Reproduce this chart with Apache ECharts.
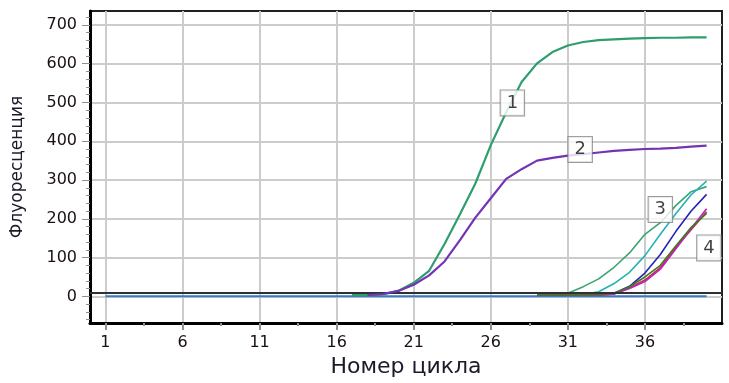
<!DOCTYPE html>
<html>
<head>
<meta charset="utf-8">
<script src="https://cdn.jsdelivr.net/npm/echarts@6/dist/echarts.min.js"></script>
<style>html,body{margin:0;padding:0;background:#fff;}#c{width:729px;height:383px;}</style>
</head>
<body>
<div id="c"></div>
<script>
// ---- data ----
const xTickLabels = [1, 6, 11, 16, 21, 26, 31, 36];
const xMinorTicks = [3.5, 8.5, 13.5, 18.5, 23.5, 28.5, 33.5, 38.5];
const yTickLabels = [0, 100, 200, 300, 400, 500, 600, 700];
const yMinorTicks = [-60, -40, -20, 20, 40, 60, 80, 120, 140, 160, 180, 220, 240, 260, 280, 320, 340, 360, 380, 420, 440, 460, 480, 520, 540, 560, 580, 620, 640, 660, 680, 720];
const threshold = 8;

const ntcStart = 1;
const ntc = [0,0,0,0,0,0,0,0,0,0,0,0,0,0,0,0,0,0,0,0,0,0,0,0,0,0,0,0,0,0,0,0,0,0,0,0,0,0,0,0];

const curve1Start = 17;
const curve1 = [3,3,5,14,35,66,135,212,291,390,475,553,601,630,647,656,661,663,665,666,667,667,668,668];
const curve2Start = 18;
const curve2 = [3,6,14,30,54,90,145,203,253,303,328,350,357,363,367,371,375,378,380,381,383,386,389];

const groupStart = 29;
const green3 = [3,3,8,25,45,75,112,160,190,234,270,283];
const cyan3 = [3,3,3,5,12,33,62,105,160,213,262,297];
const blue4 = [3,3,3,3,5,8,26,60,108,167,220,263];
const olive4 = [3,3,3,3,4,8,25,50,80,130,178,214];
const red4 = [3,3,3,3,3,6,22,42,74,126,172,218];
const magenta4 = [3,3,3,3,3,6,20,38,70,122,175,226];

const noteNames = ['1', '2', '3', '4'];
const noteCycles = [27.4, 31.8, 37.0, 40.15];
const noteValues = [499, 379, 224, 125];

// ---- build ----
function pairs(start, vals) { return vals.map((v, i) => [start + i, v]); }
function line(name, start, vals, color, width, z) {
  return { name, type: 'line', data: pairs(start, vals), symbol: 'none', z: z || 2,
    lineStyle: { color, width }, itemStyle: { color }, animation: false };
}

const chart = echarts.init(document.getElementById('c'), null, { renderer: 'canvas' });
const FONT = 'DejaVu Sans';
chart.setOption({
  animation: false,
  backgroundColor: '#ffffff',
  grid: { left: 90, right: 7, top: 11, bottom: 56, show: true, borderColor: '#202020', borderWidth: 2 },
  xAxis: [{
    type: 'value', min: 0, max: 41,
    name: 'Номер цикла', nameLocation: 'middle', nameGap: 30,
    nameTextStyle: { fontFamily: FONT, fontSize: 22, color: '#1a1a2a' },
    axisLine: { show: true, onZero: false, lineStyle: { color: '#000', width: 3 } },
    axisTick: { show: true, customValues: xTickLabels, length: 7, inside: false, lineStyle: { color: '#909090', width: 2 } },
    axisLabel: { customValues: xTickLabels, margin: 12, fontFamily: FONT, fontSize: 16, color: '#1a1010' },
    splitLine: { show: true, lineStyle: { color: '#cccccc', width: 2 } }
  }, {
    type: 'value', min: 0, max: 41, position: 'bottom', gridIndex: 0,
    axisLine: { show: false, onZero: false }, axisLabel: { show: false }, splitLine: { show: false },
    axisTick: { show: true, customValues: xMinorTicks, length: 3, lineStyle: { color: '#909090', width: 2 } }
  }],
  yAxis: [{
    type: 'value', min: -69, max: 736,
    name: 'Флуоресценция', nameLocation: 'middle', nameGap: 64, nameRotate: 90,
    nameTextStyle: { fontFamily: FONT, fontSize: 17, color: '#1a1a2a' },
    axisLine: { show: true, onZero: false, lineStyle: { color: '#000', width: 3 } },
    axisTick: { show: true, customValues: yTickLabels, length: 8, lineStyle: { color: '#909090', width: 1 } },
    axisLabel: { customValues: yTickLabels, margin: 13, fontFamily: FONT, fontSize: 16, color: '#1a1010' },
    splitLine: { show: true, lineStyle: { color: '#cccccc', width: 2 } }
  }, {
    type: 'value', min: -69, max: 736, position: 'left', gridIndex: 0,
    axisLine: { show: false, onZero: false }, axisLabel: { show: false }, splitLine: { show: false },
    axisTick: { show: true, customValues: yMinorTicks, length: 4, lineStyle: { color: '#909090', width: 1 } }
  }],
  series: [
    line('ntc', ntcStart, ntc, '#3a78c8', 2, 3),
    line('1', curve1Start, curve1, '#2e9e6e', 2.2, 4),
    line('2', curve2Start, curve2, '#7333b3', 2.2, 5),
    line('3a', groupStart, green3, '#3aa472', 1.6, 4),
    line('3b', groupStart, cyan3, '#22b2b6', 1.6, 4),
    line('4a', groupStart, blue4, '#2424b0', 1.6, 4),
    line('4b', groupStart, red4, '#c03048', 1.6, 4),
    line('4c', groupStart, magenta4, '#c020c0', 1.6, 4),
    line('4d', groupStart, olive4, '#3d7a1e', 1.6, 4),
    {
      type: 'line', data: [], symbol: 'none', z: 6,
      markLine: { silent: true, symbol: 'none', label: { show: false }, animation: false,
        lineStyle: { color: '#303030', width: 2, type: 'solid' },
        data: [{ yAxis: threshold }] }
    },
    {
      type: 'scatter', symbolSize: 0, z: 10, animation: false,
      data: noteNames.map((n, i) => ({ name: n, value: [noteCycles[i], noteValues[i]] })),
      label: { show: true, position: 'inside', formatter: p => p.name,
        fontFamily: FONT, fontSize: 18, color: '#111',
        backgroundColor: '#ffffff', borderColor: '#808080', borderWidth: 1, padding: [4, 6, 3, 6] }
    }
  ]
});
</script>
</body>
</html>
